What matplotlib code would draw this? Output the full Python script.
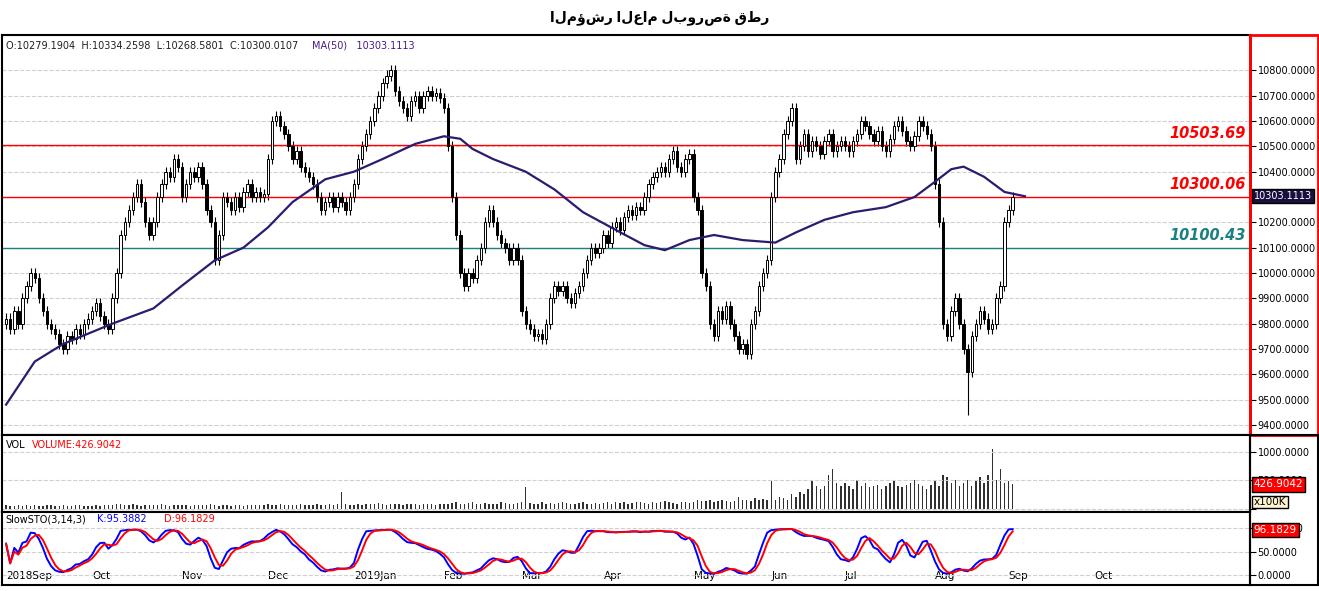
import matplotlib.pyplot as plt
import numpy as np
from matplotlib.patches import Rectangle

# daily closes, Sep 2018 - Sep 2019, month by month
closes = [
    9820,9780,9850,9800,9900,9950,10000,9980,9900,9850,9800,9780,9760,9720,9700,9750,9740,9780,9760,9800,9820,
    9850,9880,9830,9800,9780,9900,10000,10150,10200,10250,10300,10350,10280,10200,10150,10200,10300,10350,10400,10380,10450,10420,
    10300,10350,10400,10380,10420,10350,10250,10200,10050,10150,10300,10280,10250,10300,10260,10320,10350,10300,10320,10300,10310,
    10450,10600,10620,10580,10550,10500,10450,10480,10420,10400,10380,10350,10300,10250,10280,10300,10260,10300,10280,10250,10300,
    10350,10450,10500,10550,10600,10650,10700,10750,10780,10800,10720,10680,10650,10620,10680,10700,10650,10700,10720,10700,10710,10690,
    10650,10500,10300,10150,10000,9950,10000,9980,10050,10100,10200,10250,10200,10150,10120,10100,10050,10100,10050,
    9850,9800,9780,9750,9760,9740,9800,9900,9950,9930,9950,9900,9880,9920,9950,10000,10050,10100,10080,10100,
    10150,10120,10180,10200,10170,10220,10250,10230,10260,10250,10300,10350,10380,10400,10420,10400,10450,10480,10420,10400,10450,10470,
    10300,10250,10000,9950,9800,9750,9850,9820,9870,9800,9750,9700,9720,9680,9800,9850,9950,10000,10050,
    10300,10400,10450,10550,10600,10650,10450,10500,10550,10480,10520,10500,10470,10520,10550,10480,10500,10520,
    10500,10480,10520,10550,10600,10580,10550,10520,10560,10500,10480,10530,10580,10600,10560,10520,10500,10540,10600,10580,10550,10500,
    10350,10200,9800,9750,9850,9900,9800,9700,9610,9750,9800,9850,9820,9780,9800,9900,9950,10200,
    10250,10300,
]
first_open = 9800
low_overrides = {235: 9440}

volumes = [
    60,50,40,70,50,60,45,55,40,50,60,70,50,45,60,50,40,55,60,50,45,
    50,60,45,55,70,60,80,90,70,60,75,60,50,65,55,60,70,80,60,50,55,60,
    70,60,50,55,65,60,70,80,60,50,60,55,45,65,60,50,55,60,70,65,60,
    80,70,60,75,65,60,55,70,80,60,65,70,75,60,55,80,70,90,300,80,70,
    70,80,60,75,90,80,100,85,70,90,80,75,60,85,90,80,70,75,80,90,70,85,
    90,80,100,110,90,80,100,120,90,80,100,85,90,80,110,100,90,80,100,
    120,380,100,90,80,110,90,100,85,95,120,100,90,80,100,110,90,85,100,90,
    100,110,90,120,100,110,90,100,120,110,100,90,110,100,120,130,110,100,90,120,110,100,
    120,150,140,130,160,120,140,150,130,120,140,200,160,150,140,180,150,170,160,
    480,150,200,180,160,250,200,300,250,350,500,400,350,400,600,700,450,400,
    450,400,350,500,400,450,380,400,420,350,400,450,500,400,380,420,450,500,430,400,350,420,
    500,400,600,550,450,500,400,450,500,400,480,550,450,600,1050,500,700,450,
    480,427,
]

# MA(50) at sample candles
ma_idx = [0,7,14,20,26,36,43,51,58,64,70,78,85,92,100,107,111,114,119,127,134,141,149,156,161,167,173,180,188,193,200,207,215,222,227,231,234,239,244,249]
ma_val = [9480,9650,9720,9760,9800,9860,9950,10050,10100,10180,10280,10370,10400,10450,10510,10540,10530,10490,10450,10400,
          10330,10240,10170,10110,10090,10130,10150,10130,10120,10160,10210,10240,10260,10300,10360,10410,10420,10380,10320,10303]

months = ["2018Sep","Oct","Nov","Dec","2019Jan","Feb","Mar","Apr","May","Jun","Jul","Aug","Sep","Oct"]
month_len = [21,22,21,21,22,19,20,22,19,18,22,18,21,22]

closes = np.array(closes, float)
n = len(closes)
opens = np.concatenate([[first_open], closes[:-1]])
highs = np.maximum(opens, closes) + 20
lows = np.minimum(opens, closes) - 20
for k, v in low_overrides.items():
    lows[k] = v

# slow stochastic (14,3,3)
ll = np.array([lows[max(0, i-13):i+1].min() for i in range(n)])
hh = np.array([highs[max(0, i-13):i+1].max() for i in range(n)])
fast = (closes - ll) / (hh - ll) * 100
K = np.convolve(fast, np.ones(3)/3, mode='full')[:n]
K[:2] = fast[:2]
D = np.convolve(K, np.ones(3)/3, mode='full')[:n]
D[:2] = K[:2]

W, H = 1319, 591
fig = plt.figure(figsize=(W/100, H/100), dpi=100)
L, R = 2/W, 1250/W
def box(top, bot):
    return [L, 1-bot/H, R-L, (bot-top)/H]
ax = fig.add_axes(box(35, 435))
axv = fig.add_axes(box(435, 512), sharex=ax)
axs = fig.add_axes(box(512, 585), sharex=ax)

xmax = 304
for a in (ax, axv, axs):
    a.set_xlim(-1, xmax)
    a.yaxis.tick_right()
    a.grid(axis='y', color='#d0d0d0', ls='--', lw=0.8)
    a.tick_params(axis='y', labelsize=7, length=4, pad=1.5)
    a.tick_params(axis='x', length=0)
    for s in a.spines.values():
        s.set_linewidth(1.5)

# candles
for i in range(n):
    o, c = opens[i], closes[i]
    ax.vlines(i, lows[i], highs[i], color='black', lw=0.8, zorder=2)
    up = c >= o
    ax.add_patch(Rectangle((i-0.3, min(o, c)), 0.6, max(abs(c-o), 3),
                           facecolor='white' if up else 'black', edgecolor='black', lw=0.7, zorder=3))
ax.plot(ma_idx, ma_val, color='#2e1a6e', lw=1.6, zorder=4)
ax.set_ylim(9360, 10940)
ax.set_yticks(np.arange(9400, 10801, 100))
ax.yaxis.set_major_formatter(plt.FuncFormatter(lambda v, p: f"{v:.4f}"))
ax.spines['right'].set_color('red')
ax.spines['right'].set_linewidth(2)
fig.patches.append(Rectangle((1250/W, 1-435/H), 68/W, 400/H, transform=fig.transFigure,
                             fill=False, edgecolor='red', lw=2))
fig.patches.append(Rectangle((1250/W, 1-585/H), 68/W, 150/H, transform=fig.transFigure,
                             fill=False, edgecolor='black', lw=1.5))

for lvl, col in [(10503.69, 'red'), (10300.06, 'red'), (10100.43, '#1a8080')]:
    ax.axhline(lvl, color=col, lw=1, zorder=2.5)
    ax.text(xmax-1, lvl+18, f"{lvl:.2f}", color=col, ha='right', va='bottom',
            fontsize=10.5, fontweight='bold', style='italic')
ax.text(1.003, (10303.1113-9360)/(10940-9360), "10303.1113", transform=ax.transAxes, fontsize=7,
        color='white', va='center', bbox=dict(facecolor='#1a1040', edgecolor='black', pad=1.5))
ax.text(0.003, 0.985, "O:10279.1904  H:10334.2598  L:10268.5801  C:10300.0107", transform=ax.transAxes,
        fontsize=7, va='top', color='#202020')
ax.text(0.248, 0.985, "MA(50)   10303.1113", transform=ax.transAxes, fontsize=7, va='top', color='#4a1a8a')

# volume
axv.bar(np.arange(n), volumes, width=0.35, color='#303030')
axv.set_ylim(-60, 1300)
axv.set_yticks([0, 500, 1000])
axv.set_yticklabels(["", "500.0000", "1000.0000"])
axv.text(0.003, 0.93, "VOL", transform=axv.transAxes, fontsize=7, va='top')
axv.text(0.024, 0.93, "VOLUME:426.9042", transform=axv.transAxes, fontsize=7, va='top', color='red')
axv.text(1.003, (427+60)/1360, "426.9042", transform=axv.transAxes, fontsize=7.5, color='white', va='center',
         bbox=dict(facecolor='red', edgecolor='black', pad=1.5))
axv.text(1.003, 0.13, "x100K", transform=axv.transAxes, fontsize=7.5, va='center',
         bbox=dict(facecolor='#fff5d0', edgecolor='black', pad=1))

# stochastic
axs.plot(np.arange(n), K, color='blue', lw=1.4)
axs.plot(np.arange(n), D, color='red', lw=1.4)
axs.set_ylim(-21, 134)
axs.set_yticks([0, 50, 100])
axs.yaxis.set_major_formatter(plt.FuncFormatter(lambda v, p: f"{v:.4f}"))
axs.text(0.003, 0.97, "SlowSTO(3,14,3)", transform=axs.transAxes, fontsize=7, va='top')
axs.text(0.076, 0.97, "K:95.3882", transform=axs.transAxes, fontsize=7, va='top', color='blue')
axs.text(0.13, 0.97, "D:96.1829", transform=axs.transAxes, fontsize=7, va='top', color='red')
axs.text(1.003, 117/155, "96.1829", transform=axs.transAxes, fontsize=7.5, color='white', va='center',
         bbox=dict(facecolor='red', edgecolor='black', pad=1.5))

starts = np.concatenate([[0], np.cumsum(month_len)[:-1]])
axs.set_xticks(starts)
axs.set_xticklabels(months, fontsize=7.5, ha='left')
axs.tick_params(axis='x', pad=-10, length=0)
plt.setp(ax.get_xticklabels(), visible=False)
plt.setp(axv.get_xticklabels(), visible=False)

fig.text(0.5, 1-18/H, "المؤشر العام لبورصة قطر", ha='center', va='center', fontsize=10,
         fontweight='bold', family=['Noto Sans', 'DejaVu Sans'])
fig.savefig("out.png", dpi=100)
